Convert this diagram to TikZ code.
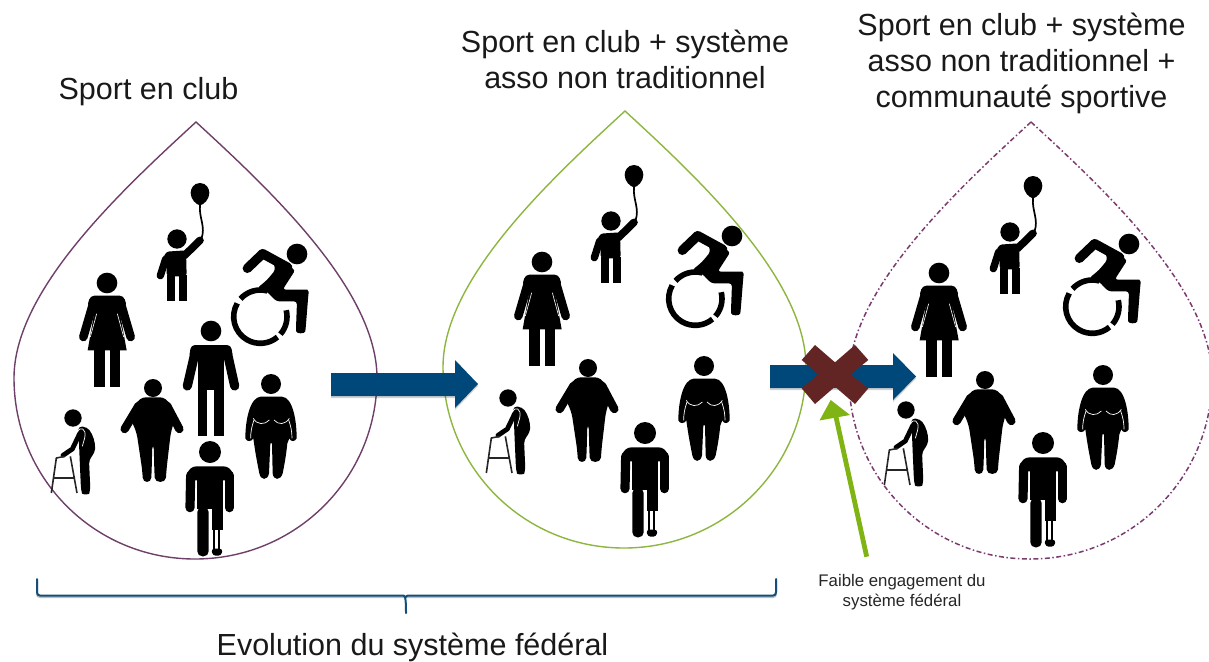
\documentclass[tikz,border=0pt]{standalone}
\usepackage{fontspec}
\setmainfont{Liberation Sans}
\definecolor{plum}{HTML}{6E3F68}
\definecolor{plumdash}{HTML}{7A3B6E}
\definecolor{leaf}{HTML}{8DB63F}
\definecolor{arrowblue}{HTML}{00487A}
\definecolor{bracecol}{HTML}{134F7A}
\definecolor{crosscol}{HTML}{632523}
\definecolor{gravel}{HTML}{7FB414}
\tikzset{
  big/.style={font=\fontsize{30.5}{36}\selectfont,align=center,text=black!90,inner sep=0pt},
  small/.style={font=\fontsize{16.8}{20.7}\selectfont,align=center,text=black!85,inner sep=0pt},
  limb/.style={line width=#1,line cap=round,line join=round,black},
  gap/.style={line width=0.6pt,white},
  drop/.pic={
    \path[pic actions] (196,122) .. controls (270,190) and (377,290) .. (377,378)
      .. controls (377,478) and (296,559) .. (195,559)
      .. controls (94,559) and (14,478) .. (14,378)
      .. controls (14,290) and (122,190) .. (196,122) -- cycle;
  },
  fwoman/.pic={\begin{scope}[scale=1/3,shift={(-322,-518)}]
    \fill (322,518) circle (31);
    \draw[limb=8.6pt] (282,574) -- (251,680);
    \draw[limb=8.6pt] (362,574) -- (393,680);
    \fill[rounded corners=4pt] (272,556) -- (372,556) -- (382,590) -- (262,590) -- cycle;
    \fill (292,560) -- (352,560) -- (381,720) -- (264,720) -- cycle;
    \fill (283,715) rectangle (315,830);
    \fill (330,715) rectangle (362,830);
    \draw[gap] (291,610) -- (272,680);
    \draw[gap] (353,610) -- (372,680);
  \end{scope}},
  kid/.pic={\begin{scope}[scale=1/3,shift={(-531,-388)}]
    \fill (531,388) circle (29);
    \draw[limb=7.4pt] (497,448) -- (481,498);
    \draw[limb=7.6pt] (553,438) -- (600,392);
    \fill[rounded corners=3pt] (498,426) -- (558,422) -- (560,500) -- (500,500) -- (500,460) -- (485,460) -- cycle;
    \fill (502,495) rectangle (526,574);
    \fill (536,495) rectangle (560,574);
    \draw[line width=1.7pt,line cap=round] (604,388) .. controls (618,350) and (596,325) .. (600,285);
    \fill (600,220) .. controls (620,220) and (628,238) .. (628,250)
      .. controls (628,268) and (612,285) .. (600,287)
      .. controls (588,285) and (572,268) .. (572,250)
      .. controls (572,238) and (580,220) .. (600,220) -- cycle;
  \end{scope}},
  chair/.pic={\begin{scope}[scale=1/3,shift={(-890,-432)}]
    \fill (890,432) circle (31);
    \draw[limb=9.4pt] (741,475) -- (787,431) -- (862,472);
    \fill[rounded corners=3pt] (815,440) -- (885,480) -- (847,539) -- (912,539)
      .. controls (922,539) and (925,547) .. (924,555)
      -- (916,655) .. controls (914,672) and (888,672) .. (887,655)
      -- (890,574) -- (828,574) -- (800,545) -- (770,535) -- (800,510) -- (825,480) -- cycle;
    \draw[line width=5.6pt] (780,620) ++(210:80) arc (210:50:80);
    \draw[line width=5.6pt] (780,620) ++(41:80) arc (41:-14:80);
    \draw[line width=5.6pt] (780,620) ++(222:80) arc (222:285:80);
  \end{scope}},
  guy/.pic={\begin{scope}[scale=1/3,shift={(-632,-664)}]
    \fill (632,664) circle (31);
    \draw[limb=9.2pt] (585,725) -- (561,829);
    \draw[limb=9.2pt] (680,725) -- (703,829);
    \fill[rounded corners=4pt] (572,706) -- (692,706) -- (698,745) -- (566,745) -- cycle;
    \fill (594,710) -- (670,710) -- (670,840) -- (594,840) -- cycle;
    \fill (592,835) rectangle (620,978);
    \fill (642,835) rectangle (670,978);
  \end{scope}},
  bigguy/.pic={\begin{scope}[scale=1/3,shift={(-458,-832)}]
    \fill (458,832) circle (27);
    \draw[limb=8.4pt] (415,885) -- (373,955);
    \draw[limb=8.4pt] (500,885) -- (537,955);
    \fill[rounded corners=7pt] (415,860) -- (500,860) -- (523,930) -- (512,960)
      -- (498,1080) .. controls (496,1118) and (464,1118) .. (462,1080)
      -- (460,995) -- (456,995) -- (454,1080) .. controls (452,1118) and (428,1118) .. (426,1080)
      -- (408,960) -- (392,930) -- cycle;
  \end{scope}},
  bigwoman/.pic={\begin{scope}[scale=1/3,shift={(-813,-822)}]
    \fill (813,822) circle (30);
    \fill (782,860) -- (846,860) .. controls (878,862) and (890,930) .. (890,985)
      .. controls (885,996) and (872,996) .. (868,985) -- (862,1000)
      .. controls (858,1040) and (852,1070) .. (848,1090)
      .. controls (842,1112) and (820,1112) .. (818,1090)
      -- (816,1000) -- (811,1000) -- (807,1090)
      .. controls (803,1112) and (782,1112) .. (778,1090)
      .. controls (772,1060) and (766,1030) .. (760,985)
      .. controls (754,996) and (740,996) .. (736,985)
      .. controls (736,930) and (750,862) .. (782,860) -- cycle;
    \draw[gap,line width=0.7pt] (760,925) .. controls (770,945) and (795,945) .. (808,930);
    \draw[gap,line width=0.7pt] (822,930) .. controls (835,945) and (855,945) .. (868,925);
    \draw[gap,line width=0.7pt] (762,930) .. controls (755,950) and (752,965) .. (752,985);
    \draw[gap,line width=0.7pt] (866,930) .. controls (873,950) and (876,965) .. (876,985);
  \end{scope}},
  elder/.pic={\begin{scope}[scale=1/3,shift={(-220,-925)}]
    \fill (220,925) circle (26);
    \fill[rounded corners=4pt] (235,950) -- (262,952) .. controls (280,975) and (288,1000) .. (285,1030)
      -- (268,1050) -- (272,1140) .. controls (268,1155) and (248,1155) .. (244,1140)
      -- (240,1050) -- (238,1000) -- cycle;
    \draw[limb=4.8pt] (240,972) -- (218,1018) -- (190,1037);
    \draw[white,line width=0.7pt] (234,965) .. controls (240,950) and (262,955) .. (255,985) -- (248,1010);
    \draw[line width=1.6pt,line join=round,black!85] (155,1150) -- (170,1045) -- (195,1040)
      (212,1040) -- (232,1150) (160,1105) -- (226,1105);
  \end{scope}},
  stump/.pic={\begin{scope}[scale=1/3,shift={(-630,-1025)}]
    \fill (630,1025) circle (33);
    \draw[limb=9.2pt] (572,1095) -- (570,1192);
    \draw[limb=9.2pt] (688,1095) -- (688,1192);
    \fill[rounded corners=8pt] (565,1068) -- (695,1068) -- (700,1110) -- (560,1110) -- cycle;
    \fill (592,1090) rectangle (668,1195);
    \fill[rounded corners=5pt] (592,1190) -- (626,1190) -- (626,1338) -- (592,1338) -- cycle;
    \fill (635,1190) rectangle (668,1258);
    \draw[line width=1.7pt] (642,1258) -- (642,1315) (658,1258) -- (658,1315);
    \fill[rounded corners=3pt] (634,1315) -- (668,1315) -- (664,1336) -- (638,1336) -- cycle;
  \end{scope}},
}
\begin{document}
\begin{tikzpicture}[x=1pt,y=-1pt]
\useasboundingbox (0,0) rectangle (1209,661);
% drops
\pic[draw=plum,line width=1.4pt] {drop};
\pic[draw=leaf,line width=1.4pt,shift={(429,-11)}] {drop};
\pic[draw=plumdash,line width=1.5pt,dash pattern=on 5pt off 2.5pt on 1.5pt off 2.5pt,shift={(835,0)}] {drop};
% group 1
\pic at (107,283) {fwoman};
\pic at (177,239) {kid};
\pic at (297,254) {chair};
\pic at (211,331) {guy};
\pic at (153,388) {bigguy};
\pic at (271,384) {bigwoman};
\pic at (73,418) {elder};
\pic at (210,452) {stump};
% group 2
\pic at (542,262) {fwoman};
\pic at (611,221) {kid};
\pic at (732,236) {chair};
\pic at (588,368) {bigguy};
\pic at (704,366) {bigwoman};
\pic at (508,398) {elder};
\pic at (645,433) {stump};
% group 3
\pic at (939,273) {fwoman};
\pic at (1010,232) {kid};
\pic at (1129,244) {chair};
\pic at (985,380) {bigguy};
\pic at (1103,375) {bigwoman};
\pic at (906,410) {elder};
\pic at (1043,443) {stump};
% block arrows
\fill[black,opacity=.18] (331,375) -- (455,375) -- (455,362) -- (478,386) -- (455,410) -- (455,398) -- (331,398) -- cycle;
\fill[arrowblue] (331,373) -- (455,373) -- (455,360) -- (478,384) -- (455,408) -- (455,396) -- (331,396) -- cycle;
\fill[black,opacity=.18] (770,367) -- (893,367) -- (893,355) -- (916,378.5) -- (893,402) -- (893,390) -- (770,390) -- cycle;
\fill[arrowblue] (770,365) -- (893,365) -- (893,353) -- (916,376.5) -- (893,400) -- (893,388) -- (770,388) -- cycle;
% cross
\begin{scope}[shift={(760,330)},scale=1/3]
\fill[crosscol] (125,90) -- (165,45) -- (225,97) -- (285,45) -- (325,90) -- (272,133)
  -- (325,175) -- (285,222) -- (225,170) -- (165,222) -- (125,175) -- (175,133) -- cycle;
\end{scope}
% green arrow
\coordinate (gtail) at (866.7,556.7);
\coordinate (gbase) at (836,417);
\coordinate (gtip) at (830.7,400);
\coordinate (gl) at (819.5,420.5);
\coordinate (gr) at (850,415);
\draw[gravel,line width=4.8pt] (gtail) -- (gbase);
\fill[gravel] (gtip) -- (gl) -- (gr) -- cycle;
% brace
\coordinate (bl) at (37,579);
\coordinate (br) at (776,579);
\coordinate (bc) at (406,613);
\draw[black!25,line width=2pt,line join=round] (37,580.5) -- (37,594) .. controls (37,596) and (38,597) .. (40,597) -- (773,597)
  .. controls (775,597) and (776,596) .. (776,594) -- (776,580.5);
\draw[bracecol,line width=2pt,line cap=round,line join=round] (bl) -- (37,592) .. controls (37,594.5) and (38,595.5) .. (40,595.5)
  -- (403,595.5) .. controls (405,595.5) and (406,597) .. (bc)
  (406,597) .. controls (406,596) and (407,595.5) .. (409,595.5)
  -- (773,595.5) .. controls (775,595.5) and (776,594.5) .. (776,592) -- (br);
% labels
\node[big] (t1) at (148.5,92) {Sport en club};
\node[big] (t2) at (625,59.5) {Sport en club + système\\asso non traditionnel};
\node[big] (t3) at (1021.5,63) {Sport en club + système\\asso non traditionnel +\\communauté sportive};
\node[big] (t4) at (412.5,647.5) {Evolution du système fédéral};
\node[small] (t5) at (902,592) {Faible engagement du\\système fédéral};
\end{tikzpicture}
\end{document}
